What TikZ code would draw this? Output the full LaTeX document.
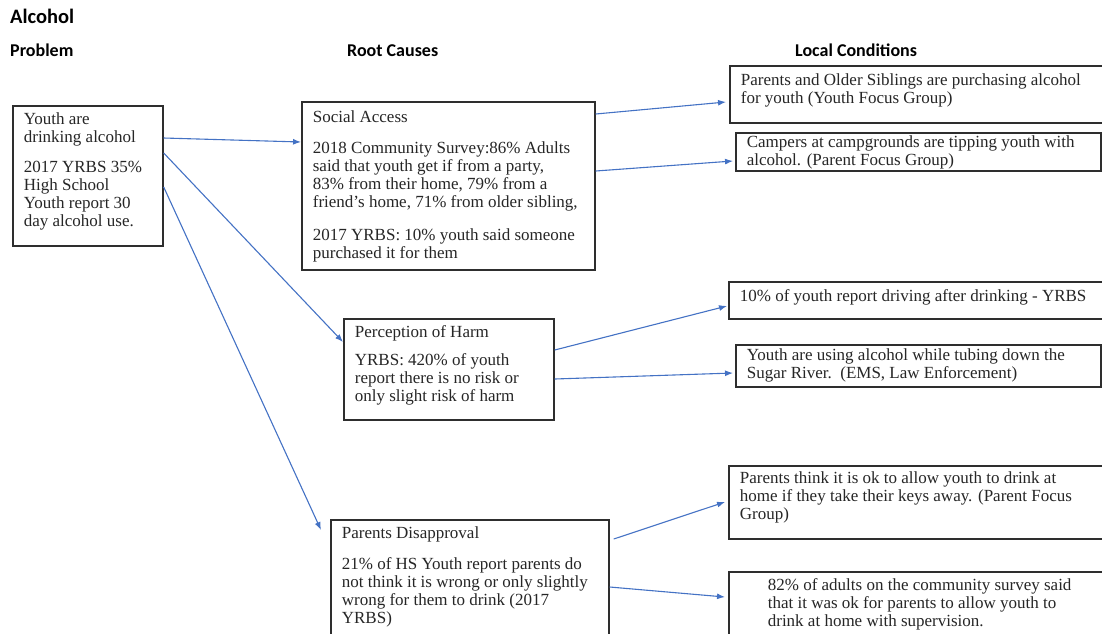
\documentclass[tikz,border=0pt]{standalone}
\usepackage{fontspec}
\setmainfont{Liberation Serif}
\newfontfamily\headfont{Carlito}
\usetikzlibrary{arrows.meta,positioning,calc}
\definecolor{CauseLine}{HTML}{2E2E2E}
\definecolor{CauseText}{HTML}{262626}
\definecolor{CauseBlue}{HTML}{4472C4}
\newcommand\boxtext[3]{\begin{minipage}[c][#2][t]{#1}\setlength\parindent{0pt}\raggedright\strut#3\end{minipage}}

\begin{document}
\begin{tikzpicture}[x=1pt,y=-1pt,>=Latex]
  \tikzset{causebox/.style={draw=CauseLine, line width=1.7pt, fill=white, anchor=north west, inner xsep=11pt, inner ysep=6.5pt, text=CauseText, font=\fontsize{17}{18}\selectfont},
    colhead/.style={anchor=base west, inner sep=0pt, text=black, font=\headfont\bfseries\fontsize{18}{20}\selectfont},
    link/.style={->, line width=1.1pt, color=CauseBlue}}
  \useasboundingbox (0,0) rectangle (1102,633);
  \clip (0,0) rectangle (1102,633);
  % headings
  \node[colhead, font=\headfont\bfseries\fontsize{20.5}{22}\selectfont] (title) at (10,23) {Alcohol};
  \node[colhead] (hprob) at (10,56) {Problem};
  \node[colhead] (hroot) at (347,56) {Root Causes};
  \node[colhead] (hloc) at (795,56) {Local Conditions};
  % problem and root causes
  \node[causebox] (youth) at (12,105) {\boxtext{128pt}{127pt}{Youth are\\drinking alcohol\\[12pt]2017 YRBS 35\%\\High School\\Youth report 30\\day alcohol use.}};
  \node[causebox, inner ysep=8pt] (social) at (301,101) {\boxtext{271pt}{152pt}{Social Access\\[13pt]2018 Community Survey:86\% Adults\\said that youth get if from a party,\\83\% from their home, 79\% from a\\friend’s home, 71\% from older sibling,\\[15pt]2017 YRBS: 10\% youth said someone\\purchased it for them}};
  \node[causebox, inner ysep=6pt] (perc) at (343,318) {\boxtext{188pt}{89pt}{Perception of Harm\\[10pt]YRBS: 420\% of youth\\report there is no risk or\\only slight risk of harm}};
  \node[causebox] (pd) at (330,519) {\boxtext{256pt}{140pt}{Parents Disapproval\\[13pt]21\% of HS Youth report parents do\\not think it is wrong or only slightly\\wrong for them to drink (2017\\YRBS)}};
  % local conditions
  \node[causebox, inner ysep=7pt] (sib) at (729,65) {\boxtext{356pt}{43pt}{Parents and Older Siblings are purchasing alcohol\\for youth (Youth Focus Group)}};
  \node[causebox, inner ysep=2pt] (camp) at (735,132) {\boxtext{343pt}{34pt}{Campers at campgrounds are tipping youth with\\alcohol. (Parent Focus Group)}};
  \node[causebox, inner ysep=7pt] (drive) at (728,281) {\boxtext{356pt}{23pt}{10\% of youth report driving after drinking - YRBS}};
  \node[causebox, inner ysep=3pt] (tube) at (735,344) {\boxtext{343pt}{36pt}{Youth are using alcohol while tubing down the\\Sugar River.\ \ (EMS, Law Enforcement)}};
  \node[causebox, inner ysep=5.5pt] (pt) at (728,465) {\boxtext{356pt}{62pt}{Parents think it is ok to allow youth to drink at\\home if they take their keys away. (Parent Focus\\Group)}};
  \node[causebox] (n82) at (728,571) {\boxtext{356pt}{100pt}{\hspace*{28pt}82\% of adults on the community survey said\\\hspace*{28pt}that it was ok for parents to allow youth to\\\hspace*{28pt}drink at home with supervision.}};
  % connectors
  \draw[link] ([yshift=-33pt]youth.north east) -- ([yshift=-41pt]social.north west);
  \draw[link] ([yshift=-48pt]youth.north east) -- ([yshift=-24pt]perc.north west);
  \draw[link] ([yshift=-82pt]youth.north east) -- ([xshift=-9pt,yshift=-11pt]pd.north west);
  \draw[link] ([yshift=-13pt]social.north east) -- ([xshift=-3pt,yshift=-37pt]sib.north west);
  \draw[link] ([yshift=-70pt]social.north east) -- ([xshift=-2pt,yshift=-29pt]camp.north west);
  \draw[link] ([yshift=-32pt]perc.north east) -- ([xshift=-1pt,yshift=-25pt]drive.north west);
  \draw[link] ([yshift=-61pt]perc.north east) -- ([xshift=-2pt,yshift=-29pt]tube.north west);
  \draw[link] ([xshift=4pt,yshift=-20pt]pd.north east) -- ([xshift=-3pt,yshift=-37pt]pt.north west);
  \draw[link] ([yshift=-68pt]pd.north east) -- ([xshift=-3pt,yshift=-26pt]n82.north west);
\end{tikzpicture}
\end{document}
